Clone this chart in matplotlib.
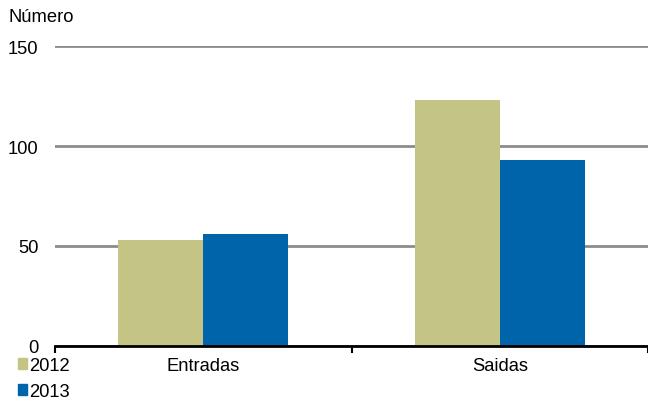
import matplotlib.pyplot as plt
import numpy as np
from matplotlib.patches import Patch

categories = ["Entradas", "Saidas"]
series_names = ["2012", "2013"]
values_2012 = [53, 123]
values_2013 = [56, 93]
yticks = [0, 50, 100, 150]

col_2012 = "#C4C585"
col_2013 = "#0064AB"

plt.rcParams['font.family'] = ['Liberation Sans', 'DejaVu Sans']
fs = 13.2

fig = plt.figure(figsize=(6.48, 4.02), dpi=100)
ax = fig.add_axes([55 / 648, 55 / 402, 593 / 648, 300 / 402])

x = np.arange(len(categories))
w = 0.286
ax.bar(x - w / 2, values_2012, w, color=col_2012, zorder=3)
ax.bar(x + w / 2, values_2013, w, color=col_2013, zorder=3)

ax.set_xlim(-0.5, 1.5)
ax.set_ylim(0, 150)
ax.set_yticks(yticks)
ax.set_yticklabels([str(v) for v in yticks], fontsize=fs)
ax.tick_params(axis='y', length=0, pad=12)
ax.yaxis.grid(True, color="#8c8c8c", linewidth=2, zorder=0)

ax.set_xticks(x)
ax.set_xticklabels(categories, fontsize=fs)
ax.tick_params(axis='x', which='major', length=0, pad=8)
ax.set_xticks([-0.5, 0.5, 1.5], minor=True)
ax.tick_params(axis='x', which='minor', length=5, width=1.5, direction='out')

for s in ['left', 'right', 'top']:
    ax.spines[s].set_visible(False)
ax.spines['bottom'].set_linewidth(2)
ax.spines['bottom'].set_zorder(4)

fig.text(8 / 648, 1 - 18 / 402, "Número", fontsize=fs, va='center', ha='left')

handles = [Patch(color=col_2012), Patch(color=col_2013)]
fig.legend(handles, series_names, loc='upper left', bbox_to_anchor=(18 / 648, 1 - 358 / 402),
           frameon=False, fontsize=fs, handlelength=0.5, handleheight=0.5,
           handletextpad=0.1, labelspacing=0.48, borderaxespad=0, borderpad=0)

fig.savefig("out.png", dpi=100)
